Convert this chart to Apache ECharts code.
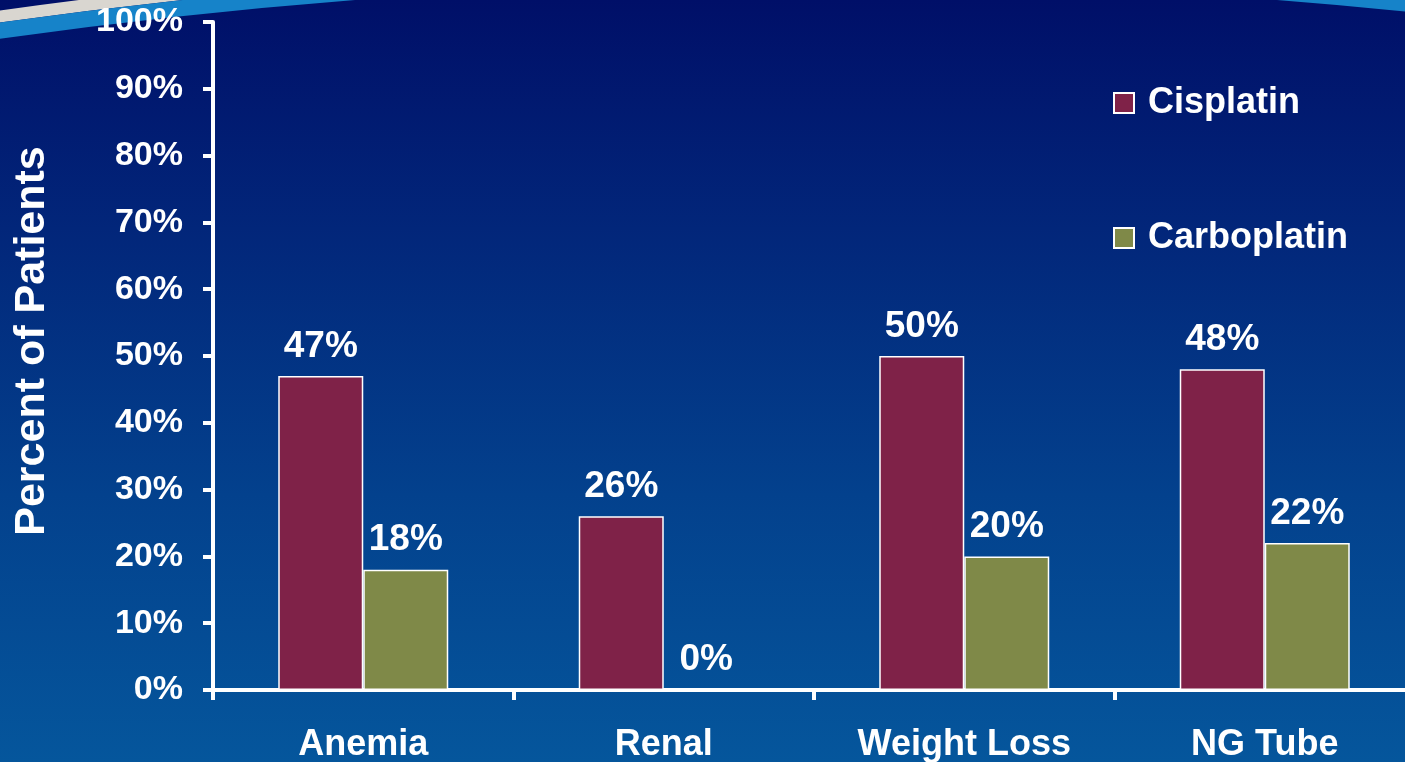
<!DOCTYPE html>
<html>
<head>
<meta charset="utf-8">
<script src="https://cdn.jsdelivr.net/npm/echarts@6/dist/echarts.min.js"></script>
<style>
  html, body { margin: 0; padding: 0; }
  #chart { width: 1405px; height: 762px; }
</style>
</head>
<body>
<div id="chart"></div>
<script>
// Adverse events by treatment arm
const categories = ['Anemia', 'Renal', 'Weight Loss', 'NG Tube'];
const cisplatin = [47, 26, 50, 48];
const carboplatin = [18, 0, 20, 22];
const yTicks = { min: 0, max: 100, interval: 10 };

const FONT = '"Liberation Sans", Arial, sans-serif';
const WHITE = '#ffffff';

const chart = echarts.init(document.getElementById('chart'), null, { renderer: 'canvas' });

const labelStyle = {
  show: true,
  position: 'top',
  distance: 11,
  color: WHITE,
  fontFamily: FONT,
  fontWeight: 'bold',
  fontSize: 37,
  formatter: '{c}%'
};

chart.setOption({
  backgroundColor: {
    type: 'linear', x: 0, y: 0, x2: 0, y2: 1,
    colorStops: [
      { offset: 0, color: '#000f68' },
      { offset: 0.3, color: '#02267a' },
      { offset: 0.65, color: '#03418d' },
      { offset: 1, color: '#05569c' }
    ]
  },
  animation: false,
  graphic: [
    // decorative swoosh across the top edge
    {
      type: 'circle', z: -10, silent: true,
      shape: { cx: 816, cy: 5877, r: 5917 },
      style: { fill: null, stroke: '#d9d6d0', lineWidth: 12 }
    },
    {
      type: 'circle', z: -10, silent: true,
      shape: { cx: 816, cy: 5877, r: 5903 },
      style: { fill: null, stroke: '#1683c9', lineWidth: 16 }
    },
    {
      type: 'text', silent: true,
      x: 32, y: 341, rotation: Math.PI / 2,
      style: {
        text: 'Percent of Patients',
        fill: WHITE,
        font: 'bold 43px ' + FONT,
        align: 'center',
        verticalAlign: 'middle'
      }
    }
  ],
  legend: {
    data: ['Cisplatin', 'Carboplatin'],
    orient: 'vertical',
    left: 1108,
    top: 80,
    itemWidth: 20,
    itemHeight: 20,
    itemGap: 99,
    icon: 'rect',
    textStyle: {
      color: WHITE,
      fontFamily: FONT,
      fontWeight: 'bold',
      fontSize: 36,
      padding: [0, 0, 0, 9]
    }
  },
  // the plot area runs slightly past the right edge of the canvas
  grid: { left: 213, top: 22, width: 1202, height: 668, containLabel: false, outerBoundsMode: 'none' },
  xAxis: {
    type: 'category',
    data: categories,
    axisLine: { lineStyle: { color: WHITE, width: 4 } },
    axisTick: { show: true, length: 10, lineStyle: { color: WHITE, width: 4 } },
    axisLabel: {
      color: WHITE, fontFamily: FONT, fontWeight: 'bold', fontSize: 36, margin: 37
    }
  },
  yAxis: {
    type: 'value',
    min: yTicks.min,
    max: yTicks.max,
    interval: yTicks.interval,
    axisLine: { show: true, lineStyle: { color: WHITE, width: 4 } },
    axisTick: { show: true, length: 10, lineStyle: { color: WHITE, width: 4 } },
    splitLine: { show: false },
    axisLabel: {
      color: WHITE, fontFamily: FONT, fontWeight: 'bold', fontSize: 34, margin: 30,
      formatter: '{value}%'
    }
  },
  series: [
    {
      name: 'Cisplatin',
      type: 'bar',
      data: cisplatin,
      barWidth: 85,
      barGap: '0%',
      itemStyle: { color: '#7f2248', borderColor: WHITE, borderWidth: 1.5 },
      label: labelStyle
    },
    {
      name: 'Carboplatin',
      type: 'bar',
      data: carboplatin,
      barWidth: 85,
      barGap: '0%',
      itemStyle: { color: '#7f8948', borderColor: WHITE, borderWidth: 1.5 },
      label: labelStyle
    }
  ]
});
</script>
</body>
</html>
